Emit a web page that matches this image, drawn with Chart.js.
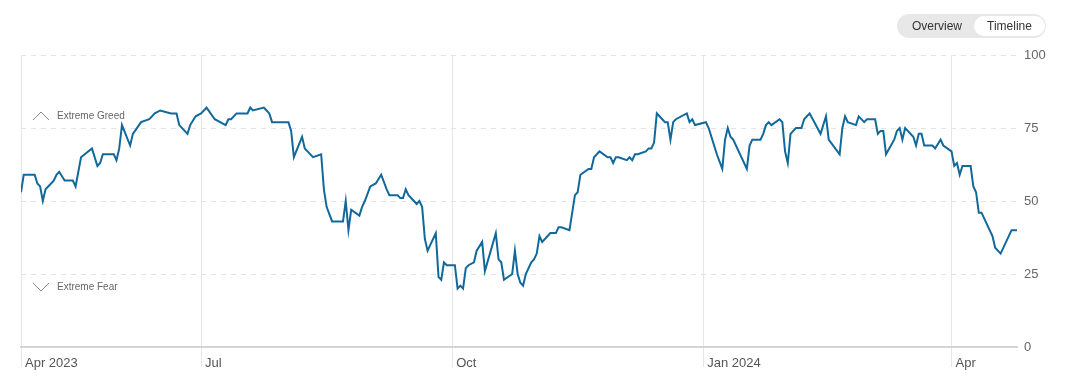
<!DOCTYPE html>
<html>
<head>
<meta charset="utf-8">
<script src="https://cdn.jsdelivr.net/npm/chart.js@4.4.1/dist/chart.umd.min.js"></script>
<style>
  body { margin: 0; background: #fff; font-family: "Liberation Sans", Arial, sans-serif; }
  .wrap { position: relative; width: 1069px; height: 389px; }
  .toggle { position: absolute; left: 897px; top: 14px; width: 149px; height: 24px; border-radius: 12px; background: #e8e8e8; }
  .toggle span { position: absolute; top: 2px; height: 20px; line-height: 20px; font-size: 12px; color: #333; text-align: center; }
  .toggle .ov { left: 0; width: 80px; }
  .toggle .tl { left: 77px; width: 71px; background: #fff; border-radius: 10px; }
</style>
</head>
<body>
<div class="wrap">
  <canvas id="chart" width="1069" height="389"></canvas>
  <div class="toggle"><span class="ov">Overview</span><span class="tl">Timeline</span></div>
</div>
<script>
// Fear & Greed index, one year of readings
const startDate = "2023-04-26";
// days after startDate
const days = [0, 1, 2, 5, 6, 7, 8, 9, 12, 13, 14, 16, 19, 20, 22, 26, 28, 29, 30, 34,
  35, 36, 37, 40, 41, 44, 47, 48, 49, 51, 55, 57, 58, 61, 62, 64, 66, 68, 71, 75,
  76, 77, 79, 83, 84, 85, 89, 90, 91, 92, 93, 96, 98, 99, 100, 103, 104, 105, 107, 110,
  111, 112, 114, 118, 119, 120, 121, 124, 125, 126, 128, 130, 132, 134, 135, 138, 139, 140, 141, 142,
  144, 145, 146, 147, 148, 149, 152, 153, 154, 155, 156, 159, 160, 161, 162, 163, 164, 166, 167, 169,
  170, 174, 175, 176, 177, 180, 181, 182, 183, 184, 185, 187, 188, 189, 190, 191, 194, 195, 196, 197,
  198, 201, 203, 204, 205, 208, 209, 210, 212, 215, 216, 217, 218, 219, 222, 223, 224, 225, 226, 229,
  230, 231, 232, 233, 235, 236, 237, 238, 239, 240, 244, 245, 246, 247, 251, 252, 253, 255, 257, 258,
  259, 260, 261, 266, 267, 268, 271, 272, 273, 274, 275, 278, 279, 280, 281, 282, 284, 286, 287, 289,
  293, 295, 296, 300, 301, 302, 303, 306, 307, 309, 310, 313, 314, 315, 316, 317, 320, 321, 322, 323,
  324, 327, 328, 329, 330, 331, 334, 335, 337, 338, 341, 342, 343, 344, 345, 348, 349, 350, 351, 352,
  356, 357, 359, 363, 365];
const values = [53, 59, 59, 59, 56, 55, 50, 54, 57, 59, 60, 57, 57, 55, 65, 68, 62, 63, 66, 66,
  64, 68, 76, 69, 73, 77, 78, 79, 80, 81, 80, 80, 76, 73, 76, 79, 80, 82, 78, 76,
  78, 78, 80, 80, 82, 81, 82, 81, 80, 77, 77, 77, 77, 74, 65, 72, 68, 67, 65, 66,
  54, 48, 43, 43, 50, 40, 47, 45, 48, 50, 55, 56, 59, 54, 52, 52, 51, 51, 54, 52,
  50, 49, 50, 48, 37, 33, 39, 24, 23, 29, 28, 28, 20, 21, 20, 27, 28, 29, 33, 36,
  26, 39, 30, 29, 23, 25, 33, 25, 22, 21, 25, 29, 30, 32, 38, 36, 39, 39, 39, 41,
  41, 40, 52, 53, 59, 61, 61, 65, 67, 65, 65, 63, 65, 65, 64, 65, 64, 66, 66, 67,
  68, 68, 70, 80, 78, 77, 77, 71, 77, 78, 80, 77, 78, 76, 77, 75, 72, 66, 61, 71,
  75, 72, 71, 61, 69, 71, 71, 73, 76, 77, 76, 78, 77, 67, 63, 73, 75, 75, 78, 80,
  73, 79, 71, 66, 75, 79, 77, 76, 79, 77, 78, 78, 73, 74, 74, 66, 71, 74, 75, 71,
  75, 72, 69, 73, 73, 69, 69, 68, 71, 69, 67, 62, 63, 59, 62, 62, 55, 53, 46, 46,
  38, 34, 32, 40, 40];

const tickDates = ["2023-04-26", "2023-07-01", "2023-10-01", "2024-01-01", "2024-04-01"];
const tickLabels = ["Apr 2023", "Jul", "Oct", "Jan 2024", "Apr"];
const yTicks = [0, 25, 50, 75, 100];

function dayOf(s) {
  return (Date.parse(s) - Date.parse(startDate)) / 86400000;
}
const tickDays = tickDates.map(dayOf);

const fontFamily = '"Liberation Sans", Arial, sans-serif';

const zoneLabels = {
  id: "zoneLabels",
  afterDatasetsDraw(chart) {
    const ctx = chart.ctx;
    const y = chart.scales.y;
    const left = chart.chartArea.left;
    const gy = y.getPixelForValue(75) - 12;
    const fy = y.getPixelForValue(25) + 13;
    ctx.save();
    ctx.strokeStyle = "#888";
    ctx.lineWidth = 1;
    ctx.beginPath();
    ctx.moveTo(left + 12, gy + 4);
    ctx.lineTo(left + 20, gy - 4);
    ctx.lineTo(left + 28, gy + 4);
    ctx.moveTo(left + 12, fy - 4);
    ctx.lineTo(left + 20, fy + 4);
    ctx.lineTo(left + 28, fy - 4);
    ctx.stroke();
    ctx.fillStyle = "#666";
    ctx.font = "10px " + fontFamily;
    ctx.textBaseline = "middle";
    ctx.fillText("Extreme Greed", left + 36, gy);
    ctx.fillText("Extreme Fear", left + 36, fy);
    ctx.restore();
  }
};

new Chart(document.getElementById("chart"), {
  type: "line",
  data: {
    datasets: [{
      data: days.map((d, i) => ({ x: d, y: values[i] })),
      borderColor: "#11689a",
      borderWidth: 2,
      pointRadius: 0,
      tension: 0
    }]
  },
  options: {
    responsive: false,
    animation: false,
    devicePixelRatio: 1,
    layout: { padding: { left: 21, top: 55, right: 0, bottom: 0 } },
    plugins: { legend: { display: false }, tooltip: { enabled: false } },
    scales: {
      x: {
        type: "linear",
        min: 0,
        max: 365,
        afterBuildTicks: (s) => { s.ticks = tickDays.map((v) => ({ value: v })); },
        afterFit: (s) => { s.height = 42; },
        ticks: {
          callback: (v, i) => tickLabels[i],
          align: "start",
          labelOffset: 4,
          padding: -11,
          maxRotation: 0,
          autoSkip: false,
          color: "#555",
          font: { family: fontFamily, size: 13 }
        },
        grid: { color: "#e6e6e6", tickLength: 20, lineWidth: 1 },
        border: { color: "#d4d4d4", width: 2 }
      },
      y: {
        position: "right",
        min: 0,
        max: 100,
        afterBuildTicks: (s) => { s.ticks = yTicks.map((v) => ({ value: v })); },
        afterFit: (s) => { s.width = 52; },
        ticks: {
          color: "#666",
          padding: 7,
          font: { family: fontFamily, size: 13 }
        },
        grid: {
          color: (c) => (c.tick && c.tick.value === 0 ? "rgba(0,0,0,0)" : "#e3e3e3"),
          drawTicks: false
        },
        border: { display: false, dash: [5, 5] }
      }
    }
  },
  plugins: [zoneLabels]
});
</script>
</body>
</html>
